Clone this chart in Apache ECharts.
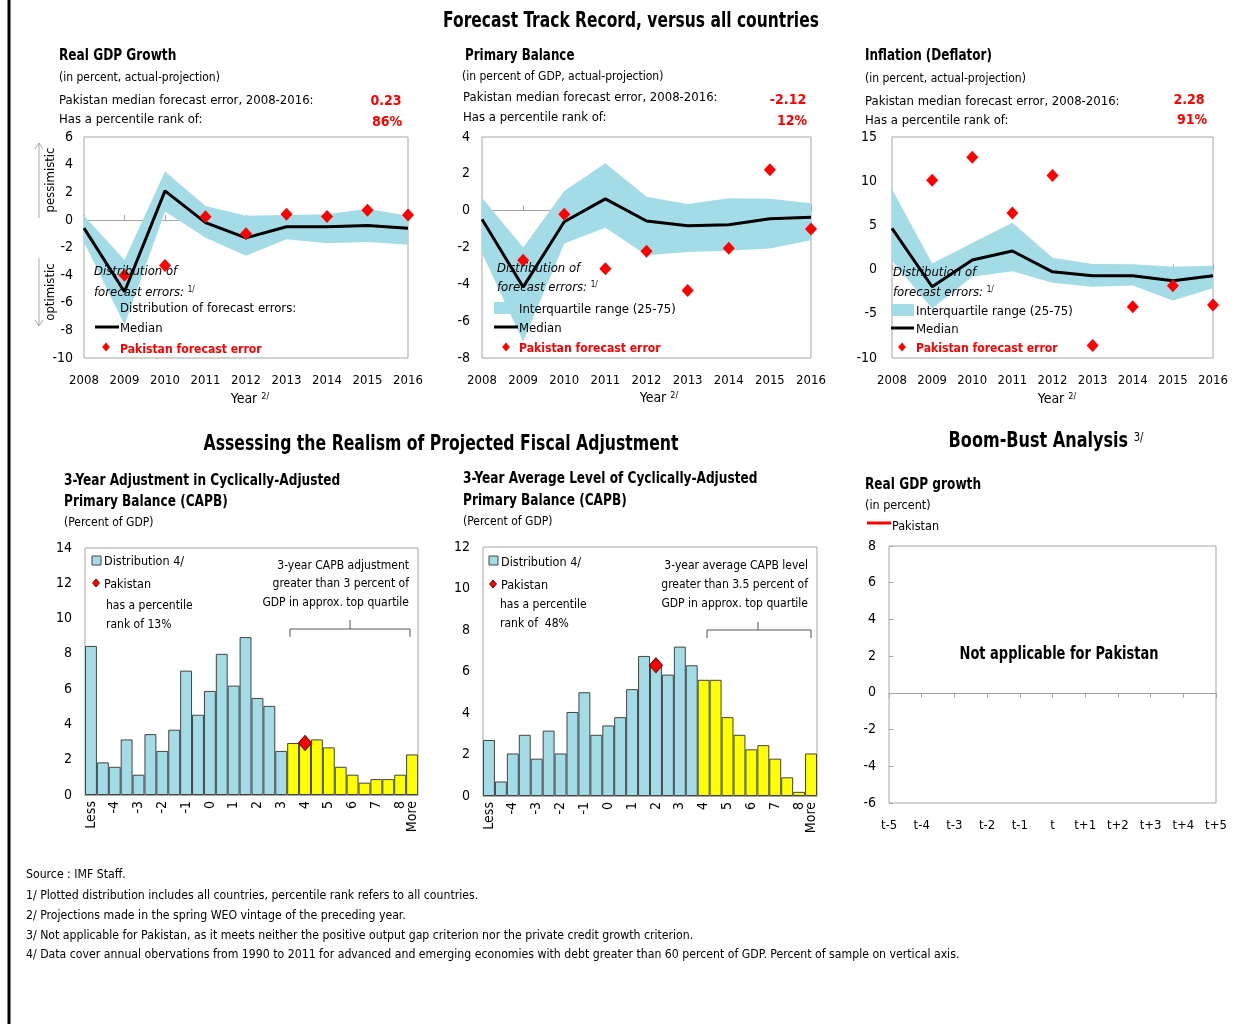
<!DOCTYPE html>
<html><head><meta charset="utf-8">
<script src="https://cdn.jsdelivr.net/npm/echarts@6/dist/echarts.min.js"></script>
<style>html,body{margin:0;padding:0;background:#fff}#c{width:1249px;height:1024px}</style>
</head><body><div id="c"></div>
<script>
// ---- forecast track record data (actual minus projection) ----
const years = ['2008','2009','2010','2011','2012','2013','2014','2015','2016'];

const gdpMedian   = [-0.6, -5.2, 2.1, -0.2, -1.3, -0.5, -0.5, -0.4, -0.6];
const gdpUpper    = [0.3, -2.9, 3.5, 1.0, 0.3, 0.35, 0.4, 0.8, 0.3];
const gdpLower    = [-1.6, -7.6, 0.6, -1.3, -2.6, -1.4, -1.7, -1.6, -1.8];
const gdpPakistan = [null, -4.0, -3.3, 0.22, -1.0, 0.4, 0.24, 0.7, 0.35];

const pbMedian   = [-0.47, -4.15, -0.6, 0.64, -0.56, -0.82, -0.76, -0.44, -0.36];
const pbUpper    = [0.7, -2.0, 1.07, 2.58, 0.76, 0.36, 0.68, 0.65, 0.4];
const pbLower    = [-2.3, -7.1, -1.78, -0.93, -2.42, -2.24, -2.18, -2.05, -1.6];
const pbPakistan = [null, -2.69, -0.2, -3.15, -2.2, -4.33, -2.04, 2.22, -1.0];

const infMedian   = [4.67, -1.94, 1.08, 2.1, -0.25, -0.7, -0.7, -1.26, -0.7];
const infUpper    = [9.1, 0.7, 3.0, 5.3, 1.35, 0.63, 0.6, 0.33, 0.44];
const infLower    = [1.0, -4.4, -0.8, -0.2, -1.5, -1.94, -1.8, -3.5, -2.1];
const infPakistan = [null, 10.1, 12.7, 6.4, 10.65, -8.6, -4.2, -1.84, -4.0];

// ---- fiscal adjustment distributions (percent of sample) ----
const bins = ['Less','-4.5','-4','-3.5','-3','-2.5','-2','-1.5','-1','-0.5','0','0.5','1','1.5',
              '2','2.5','3','3.5','4','4.5','5','5.5','6','6.5','7','7.5','8','More'];
const capbAdjDist = [8.45, 1.85, 1.6, 3.15, 1.15, 3.45, 2.5, 3.7, 7.05, 4.55, 5.9, 8.0, 6.2, 8.95,
                     5.5, 5.05, 2.5, 2.95, 2.95, 3.15, 2.7, 1.6, 1.15, 0.7, 0.9, 0.9, 1.15, 2.3];
const capbAdjPakistan = ['4', 2.95];
const capbAdjTopFrom = '3.5';

const capbLvlDist = [2.7, 0.7, 2.05, 2.95, 1.8, 3.15, 2.05, 4.05, 5.0, 2.95, 3.4, 3.8, 5.15, 6.75,
                     6.3, 5.85, 7.2, 6.3, 5.6, 5.6, 3.8, 2.95, 2.25, 2.45, 1.8, 0.9, 0.2, 2.05];
const capbLvlPakistan = ['2', 6.3];
const capbLvlTopFrom = '4';

// ---- boom-bust window ----
const bbPeriods = ['t-5','t-4','t-3','t-2','t-1','t','t+1','t+2','t+3','t+4','t+5'];
const bbPakistan = [];

// ---- styling ----
const F = "'Liberation Sans Narrow','DejaVu Sans Condensed','Roboto Condensed','Liberation Sans',sans-serif";
const BAND = '#a3dce7';
const YEL = '#ffff00';
const RED = '#ff0000';
const BOX = '#a6a6a6';
const DY = 1.5; // baseline nudge for free text

const grids = [
  {left: 84,  top: 137, width: 324, height: 221},
  {left: 482, top: 137, width: 329, height: 221},
  {left: 892, top: 137, width: 321, height: 221},
  {left: 85,  top: 548, width: 333, height: 247},
  {left: 483, top: 547, width: 334, height: 249},
  {left: 889, top: 546, width: 327, height: 257}
].map(g => Object.assign({show: true, borderColor: BOX, borderWidth: 1, backgroundColor: 'transparent', containLabel: false}, g));

const lbl = (o) => Object.assign({fontFamily: F, fontSize: 14, color: '#000'}, o);

function yearAxes(gi) {
  return [
    {type: 'category', gridIndex: gi, data: years, boundaryGap: false, position: 'bottom',
     axisLine: {show: false, onZero: false}, axisTick: {show: false},
     axisLabel: lbl({margin: 16, fontSize: 13, interval: 0, hideOverlap: false})},
    {type: 'category', gridIndex: gi, data: years, boundaryGap: false, position: 'bottom',
     axisLine: {show: true, onZero: true, lineStyle: {color: BOX, width: 1}},
     axisTick: {show: true, inside: true, length: 5, lineStyle: {color: BOX}},
     axisLabel: {show: false}}
  ];
}
function histAxis(gi) {
  return {type: 'category', gridIndex: gi, data: bins, boundaryGap: true,
    axisLine: {show: true, lineStyle: {color: BOX}},
    axisTick: {show: false},
    axisLabel: lbl({rotate: 90, interval: 0, margin: 6,
      formatter: v => (v.indexOf('.') >= 0 ? '' : v)})};
}
function valAxis(gi, min, max, interval, margin, extra) {
  return Object.assign({type: 'value', gridIndex: gi, min, max, interval,
    axisLine: {show: false}, axisTick: {show: false}, splitLine: {show: false},
    axisLabel: lbl({margin})}, extra || {});
}

const xAxis = [].concat(
  yearAxes(0), yearAxes(1), yearAxes(2),
  [histAxis(3), histAxis(4)],
  [{type: 'category', gridIndex: 5, data: bbPeriods, boundaryGap: false, position: 'bottom',
    axisLine: {show: false, onZero: false}, axisTick: {show: false},
    axisLabel: lbl({margin: 16, fontSize: 13, interval: 0})},
   {type: 'category', gridIndex: 5, data: bbPeriods, boundaryGap: false, position: 'bottom',
    axisLine: {show: true, onZero: true, lineStyle: {color: BOX}},
    axisTick: {show: true, length: 5, lineStyle: {color: BOX}}, axisLabel: {show: false}}]
);
const yAxis = [
  valAxis(0, -10, 6, 2, 11),
  valAxis(1, -8, 4, 2, 12),
  valAxis(2, -10, 15, 5, 15),
  valAxis(3, 0, 14, 2, 13),
  valAxis(4, 0, 12, 2, 13),
  valAxis(5, -6, 8, 2, 13, {axisTick: {show: true, inside: true, length: 4, lineStyle: {color: BOX}}})
];

const clean = arr => arr.map(v => (v === null ? '-' : v));

function trackSeries(k, median, upper, lower, pak) {
  const width = upper.map((u, i) => +(u - lower[i]).toFixed(3));
  const xi = k * 2, yi = k;
  return [
    {type: 'line', xAxisIndex: xi, yAxisIndex: yi, data: lower, stack: 'band' + k, stackStrategy: 'all',
     symbol: 'none', lineStyle: {opacity: 0}, silent: true, z: 1},
    {type: 'line', xAxisIndex: xi, yAxisIndex: yi, data: width, stack: 'band' + k, stackStrategy: 'all',
     symbol: 'none', lineStyle: {opacity: 0}, areaStyle: {color: BAND, opacity: 1}, silent: true, z: 1},
    {type: 'line', xAxisIndex: xi, yAxisIndex: yi, data: median, symbol: 'none',
     lineStyle: {color: '#000', width: 3}, z: 3},
    {type: 'scatter', xAxisIndex: xi, yAxisIndex: yi, data: clean(pak), symbol: 'diamond',
     symbolSize: [12, 13], itemStyle: {color: RED, opacity: 1}, z: 4}
  ];
}
function histSeries(h, dist, pak, topFrom) {
  const cut = bins.indexOf(topFrom);
  return [
    {type: 'bar', xAxisIndex: 6 + h, yAxisIndex: 3 + h, data: dist, barCategoryGap: '0%',
     itemStyle: {color: p => (p.dataIndex >= cut ? YEL : BAND), borderColor: '#444', borderWidth: 1}, z: 2},
    {type: 'scatter', xAxisIndex: 6 + h, yAxisIndex: 3 + h, data: [pak], symbol: 'diamond',
     symbolSize: [13, 15], itemStyle: {color: RED, opacity: 1, borderColor: '#7a0000', borderWidth: 1}, z: 4}
  ];
}

const series = [].concat(
  trackSeries(0, gdpMedian, gdpUpper, gdpLower, gdpPakistan),
  trackSeries(1, pbMedian, pbUpper, pbLower, pbPakistan),
  trackSeries(2, infMedian, infUpper, infLower, infPakistan),
  histSeries(0, capbAdjDist, capbAdjPakistan, capbAdjTopFrom),
  histSeries(1, capbLvlDist, capbLvlPakistan, capbLvlTopFrom),
  [{type: 'line', name: 'Pakistan', xAxisIndex: 8, yAxisIndex: 5, data: bbPakistan,
    lineStyle: {color: RED, width: 3}, symbol: 'none'}]
);

// ---- text and annotation helpers ----
// o: text style overrides; sx: horizontal squeeze for the condensed heading face
function T(x, y, text, o, sx, rot) {
  return {type: 'text', x, y: y + (rot ? 0 : DY), rotation: rot || 0, scaleX: sx || 1, z: 100, silent: true,
    style: Object.assign({text, fontFamily: F, fontSize: 13, fill: '#000',
      textAlign: 'left', textVerticalAlign: 'middle'}, o || {})};
}
function sup(x, y, main, s, o, align, sx) {
  const fs = (o && o.fontSize) || 13;
  return {type: 'text', x, y: y + DY, scaleX: sx || 1, z: 100, silent: true,
    style: {text: '{a|' + main + '}{s|' + s + '}', textAlign: align || 'left', textVerticalAlign: 'middle',
      rich: {
        a: Object.assign({fontFamily: F, fontSize: fs, fill: '#000', verticalAlign: 'top', lineHeight: fs + 2}, o || {}),
        s: {fontFamily: F, fontSize: Math.round(fs * 0.62), fill: '#000', verticalAlign: 'top', lineHeight: fs + 2}
      }}};
}
function diamond(cx, cy, r, fill, stroke) {
  return {type: 'polygon', z: 100, silent: true,
    shape: {points: [[cx, cy - r], [cx + r * 0.85, cy], [cx, cy + r], [cx - r * 0.85, cy]]},
    style: {fill, stroke: stroke || null, lineWidth: stroke ? 1 : 0}};
}
function seg(pts, color, w) {
  return {type: 'polyline', z: 100, silent: true, shape: {points: pts},
    style: {stroke: color, lineWidth: w, fill: null}};
}
function rect(x, y, w, h, fill, stroke) {
  return {type: 'rect', z: 100, silent: true, shape: {x, y, width: w, height: h},
    style: {fill, stroke: stroke || null, lineWidth: stroke ? 1 : 0}};
}

const H1 = {fontSize: 21, fontWeight: 'bold', textAlign: 'center'};
const H2 = {fontSize: 15, fontWeight: 'bold'};
const RV = {fontSize: 14, fontWeight: 'bold', fill: RED, textAlign: 'center'};
const graphic = [
  // frame edge
  seg([[9, 0], [9, 1024]], '#000', 3),

  // section titles
  T(631, 20, 'Forecast Track Record, versus all countries', H1, 0.82),
  T(441, 443, 'Assessing the Realism of Projected Fiscal Adjustment', H1, 0.83),
  sup(1046, 441, 'Boom-Bust Analysis ', '3/', {fontSize: 21, fontWeight: 'bold'}, 'center', 0.85),

  // panel headers: real GDP
  T(59, 55, 'Real GDP Growth', H2, 0.9),
  T(59, 76, '(in percent, actual-projection)', {fontSize: 12}),
  T(59, 99, 'Pakistan median forecast error, 2008-2016:', {fontSize: 13}),
  T(59, 118, 'Has a percentile rank of:', {fontSize: 13}),
  T(386, 100, '0.23', RV),
  T(387, 121, '86%', RV),
  // primary balance
  T(465, 55, 'Primary Balance', H2, 0.88),
  T(462, 75, '(in percent of GDP, actual-projection)', {fontSize: 12}),
  T(463, 96, 'Pakistan median forecast error, 2008-2016:', {fontSize: 13}),
  T(463, 116, 'Has a percentile rank of:', {fontSize: 13}),
  T(788, 99, '-2.12', RV),
  T(792, 120, '12%', RV),
  // inflation
  T(865, 55, 'Inflation (Deflator)', H2, 0.89),
  T(865, 77, '(in percent, actual-projection)', {fontSize: 12}),
  T(865, 100, 'Pakistan median forecast error, 2008-2016:', {fontSize: 13}),
  T(865, 119, 'Has a percentile rank of:', {fontSize: 13}),
  T(1189, 99, '2.28', RV),
  T(1192, 119, '91%', RV),

  // x-axis titles
  sup(250, 399, 'Year ', '2/', {fontSize: 14}, 'center'),
  sup(659, 398, 'Year ', '2/', {fontSize: 14}, 'center'),
  sup(1057, 399, 'Year ', '2/', {fontSize: 14}, 'center'),

  // pessimistic / optimistic guide
  seg([[39, 218], [39, 143]], '#aaa', 1), seg([[35, 149], [39, 143], [43, 149]], '#aaa', 1),
  T(51, 180, 'pessimistic', {fontSize: 13, textAlign: 'center'}, 1, Math.PI / 2),
  seg([[39, 258], [39, 326]], '#aaa', 1), seg([[35, 320], [39, 326], [43, 320]], '#aaa', 1),
  T(51, 292, 'optimistic', {fontSize: 13, textAlign: 'center'}, 1, Math.PI / 2),

  // in-plot legends, panel 1
  T(94, 270, 'Distribution of', {fontSize: 13, fontStyle: 'italic'}),
  sup(94, 292, 'forecast errors: ', '1/', {fontSize: 13, fontStyle: 'italic'}),
  T(120, 307, 'Distribution of forecast errors:', {fontSize: 13}),
  seg([[95, 327], [119, 327]], '#000', 3), T(120, 327, 'Median', {fontSize: 13}),
  diamond(106, 347, 4.5, RED), T(120, 348, 'Pakistan forecast error', {fontSize: 13, fontWeight: 'bold', fill: RED}, 0.93),
  // panel 2
  T(497, 267, 'Distribution of', {fontSize: 13, fontStyle: 'italic'}),
  sup(497, 287, 'forecast errors: ', '1/', {fontSize: 13, fontStyle: 'italic'}),
  rect(494, 302, 24, 12, BAND), T(519, 308, 'Interquartile range (25-75)', {fontSize: 13}),
  seg([[494, 327], [518, 327]], '#000', 3), T(519, 327, 'Median', {fontSize: 13}),
  diamond(506, 347, 4.5, RED), T(519, 347, 'Pakistan forecast error', {fontSize: 13, fontWeight: 'bold', fill: RED}, 0.93),
  // panel 3
  T(893, 271, 'Distribution of', {fontSize: 13, fontStyle: 'italic'}),
  sup(893, 292, 'forecast errors: ', '1/', {fontSize: 13, fontStyle: 'italic'}),
  rect(891, 304, 23, 12, BAND), T(916, 310, 'Interquartile range (25-75)', {fontSize: 13}),
  seg([[891, 328], [914, 328]], '#000', 3), T(916, 328, 'Median', {fontSize: 13}),
  diamond(902, 347, 4.5, RED), T(916, 347, 'Pakistan forecast error', {fontSize: 13, fontWeight: 'bold', fill: RED}, 0.93),

  // fiscal panel headers
  T(64, 480, '3-Year Adjustment in Cyclically-Adjusted', H2, 0.9),
  T(64, 501, 'Primary Balance (CAPB)', H2, 0.9),
  T(64, 521, '(Percent of GDP)', {fontSize: 12}),
  T(463, 478, '3-Year Average Level of Cyclically-Adjusted', H2, 0.9),
  T(463, 500, 'Primary Balance (CAPB)', H2, 0.9),
  T(463, 520, '(Percent of GDP)', {fontSize: 12}),

  // histogram 1 annotations
  rect(92, 556, 9, 9, BAND, '#444'), T(104, 560, 'Distribution 4/', {fontSize: 12.5}),
  diamond(96, 583, 4, RED, '#7a0000'), T(104, 583, 'Pakistan', {fontSize: 12.5}),
  T(106, 604, 'has a percentile', {fontSize: 12}),
  T(106, 623, 'rank of 13%', {fontSize: 12}),
  T(409, 564, '3-year CAPB adjustment', {fontSize: 12, textAlign: 'right'}),
  T(409, 582, 'greater than 3 percent of', {fontSize: 12, textAlign: 'right'}),
  T(409, 601, 'GDP in approx. top quartile', {fontSize: 12, textAlign: 'right'}),
  seg([[290, 637], [290, 629], [410, 629], [410, 637]], '#555', 1), seg([[350, 629], [350, 620]], '#555', 1),

  // histogram 2 annotations
  rect(489, 556, 9, 9, BAND, '#444'), T(501, 561, 'Distribution 4/', {fontSize: 12.5}),
  diamond(493, 584, 4, RED, '#7a0000'), T(501, 584, 'Pakistan', {fontSize: 12.5}),
  T(500, 603, 'has a percentile', {fontSize: 12}),
  T(500, 622, 'rank of  48%', {fontSize: 12}),
  T(808, 564, '3-year average CAPB level', {fontSize: 12, textAlign: 'right'}),
  T(808, 583, 'greater than 3.5 percent of', {fontSize: 12, textAlign: 'right'}),
  T(808, 602, 'GDP in approx. top quartile', {fontSize: 12, textAlign: 'right'}),
  seg([[707, 638], [707, 630], [811, 630], [811, 638]], '#555', 1), seg([[758, 630], [758, 622]], '#555', 1),

  // boom-bust panel
  T(865, 484, 'Real GDP growth', H2, 0.9),
  T(865, 504, '(in percent)', {fontSize: 12.5}),
  seg([[867, 523], [891, 523]], RED, 3), T(892, 525, 'Pakistan', {fontSize: 12.5}),
  T(1059, 653, 'Not applicable for Pakistan', {fontSize: 17, fontWeight: 'bold', textAlign: 'center'}, 0.85),

  // notes
  T(26, 873, 'Source : IMF Staff.', {fontSize: 12.2}),
  T(26, 894, '1/ Plotted distribution includes all countries, percentile rank refers to all countries.', {fontSize: 12.2}),
  T(26, 914, '2/ Projections made in the spring WEO vintage of the preceding year.', {fontSize: 12.2}),
  T(26, 934, '3/ Not applicable for Pakistan, as it meets neither the positive output gap criterion nor the private credit growth criterion.', {fontSize: 12.2}),
  T(26, 953, '4/ Data cover annual obervations from 1990 to 2011 for advanced and emerging economies with debt greater than 60 percent of GDP. Percent of sample on vertical axis.', {fontSize: 12.2})
];

const chart = echarts.init(document.getElementById('c'), null, {renderer: 'canvas', width: 1249, height: 1024});
chart.setOption({
  backgroundColor: '#fff',
  animation: false,
  textStyle: {fontFamily: F},
  grid: grids,
  xAxis,
  yAxis,
  series,
  graphic
});
</script>
</body></html>
